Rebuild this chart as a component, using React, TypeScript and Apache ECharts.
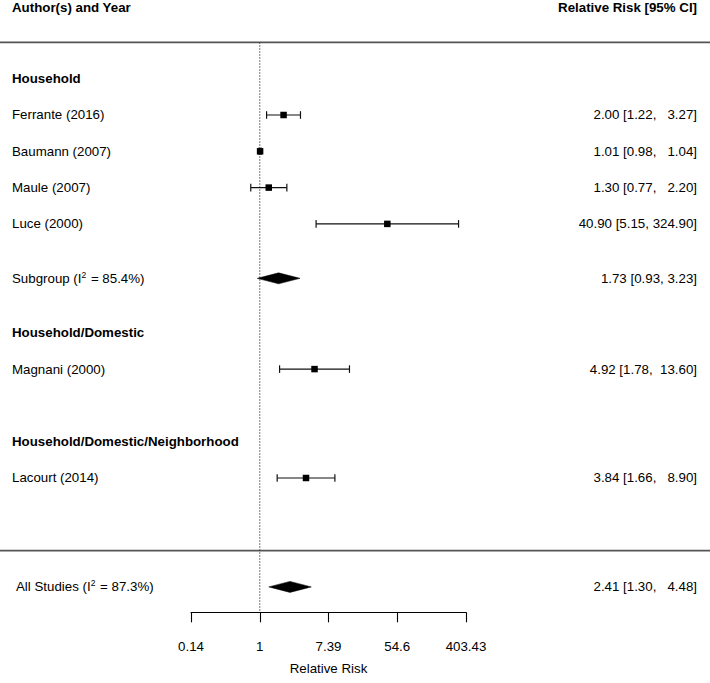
import React, { useEffect, useRef } from "react";
import * as echarts from "echarts";

// ---------- data ----------
const studyNames = ["Ferrante (2016)", "Baumann (2007)", "Maule (2007)", "Luce (2000)", "Magnani (2000)", "Lacourt (2014)"];
const studyRows = [0, 1, 2, 3, 7, 10];
const studyRR = [2.0, 1.01, 1.3, 40.9, 4.92, 3.84];
const studyLower = [1.22, 0.98, 0.77, 5.15, 1.78, 1.66];
const studyUpper = [3.27, 1.04, 2.2, 324.9, 13.6, 8.9];

const groupNames = ["Household", "Household/Domestic", "Household/Domestic/Neighborhood"];
const groupRows = [-1, 6, 9];

const summaryNames = ["Subgroup", "All Studies"];
const summaryI2 = ["85.4%", "87.3%"];
const summaryRows = [4.5, 13];
const summaryRR = [1.73, 2.41];
const summaryLower = [0.93, 1.3];
const summaryUpper = [3.23, 4.48];
const summaryPadded = [false, true];

const tickValues = [-2, 0, 2, 4, 6]; // natural log scale
const tickLabels = ["0.14", "1", "7.39", "54.6", "403.43"];

const headerLeft = "Author(s) and Year";
const headerRight = "Relative Risk [95% CI]";
const axisTitle = "Relative Risk";

// ---------- layout ----------
const W = 710;
const H = 683;
const ROW_MIN = -2;
const ROW_MAX = 13.7;
const HEADER_ROW = -2.95;
const SEPARATOR_ROWS = [-2, 12];
const FONT = '"Liberation Sans", Arial, Helvetica, sans-serif';
const FS = 13.3;
const NBSP = "\u00A0";

const pad = (s: string, w: number) => NBSP.repeat(Math.max(0, w - s.length)) + s;
const fmtCI = (est: number, lo: number, hi: number, padded: boolean) => {
  const e = est.toFixed(2), l = lo.toFixed(2), h = hi.toFixed(2);
  if (!padded) return `${e} [${l}, ${h}]`;
  return `${e} [${l},${NBSP}${pad(h, 6)}]`;
};

type TextItem = { row: number; text: string; bold?: boolean; x: number; align: "left" | "right"; rich?: boolean };

export default function App() {
  const ref = useRef<HTMLDivElement>(null);

  useEffect(() => {
    if (!ref.current) return;
    const chart = echarts.init(ref.current, null, { renderer: "svg" });

    const leftItems: TextItem[] = [];
    const rightItems: TextItem[] = [];
    leftItems.push({ row: HEADER_ROW, text: headerLeft, bold: true, x: 12, align: "left" });
    rightItems.push({ row: HEADER_ROW, text: headerRight, bold: true, x: 697, align: "right" });
    groupNames.forEach((g, i) => leftItems.push({ row: groupRows[i], text: g, bold: true, x: 12, align: "left" }));
    studyNames.forEach((s, i) => {
      leftItems.push({ row: studyRows[i], text: s, x: 12, align: "left" });
      rightItems.push({ row: studyRows[i], text: fmtCI(studyRR[i], studyLower[i], studyUpper[i], true), x: 697, align: "right" });
    });
    summaryNames.forEach((s, i) => {
      leftItems.push({ row: summaryRows[i], text: `${s} (I{sup|2} = ${summaryI2[i]})`, x: i === 1 ? 16 : 12, align: "left", rich: true });
      rightItems.push({ row: summaryRows[i], text: fmtCI(summaryRR[i], summaryLower[i], summaryUpper[i], summaryPadded[i]), x: 697, align: "right" });
    });

    const textSeries = (items: TextItem[]) => ({
      type: "custom",
      silent: true,
      data: items.map((it) => [0, it.row]),
      encode: { x: 0, y: 1 },
      renderItem: (params: any, api: any) => {
        const it = items[params.dataIndex];
        const y = api.coord([0, it.row])[1];
        const style: any = {
          text: it.text,
          x: it.x,
          y,
          fill: "#000",
          fontSize: FS,
          fontFamily: FONT,
          fontWeight: it.bold ? "bold" : "normal",
          align: it.align,
          verticalAlign: "middle",
        };
        if (it.rich) {
          style.rich = {
            sup: { fontSize: 8.5, fontFamily: FONT, fill: "#000", verticalAlign: "top", padding: [0, 1, 7, 0] },
          };
        }
        return { type: "text", style };
      },
    });

    const option: any = {
      animation: false,
      grid: { left: 191, right: W - 466, top: 42.4, bottom: H - 612.3, containLabel: false },
      xAxis: {
        type: "value",
        min: -2,
        max: 6,
        interval: 2,
        axisLine: { show: true, onZero: false, lineStyle: { color: "#000", width: 1.1 } },
        axisTick: { show: true, length: 10, lineStyle: { color: "#000", width: 1.1 } },
        axisLabel: {
          margin: 28,
          fontSize: FS,
          color: "#000",
          fontFamily: FONT,
          formatter: (v: number) => {
            const i = tickValues.indexOf(v);
            return i >= 0 ? tickLabels[i] : "";
          },
        },
        splitLine: { show: false },
        name: axisTitle,
        nameLocation: "middle",
        nameGap: 50,
        nameTextStyle: { fontSize: FS, color: "#000", fontFamily: FONT },
      },
      yAxis: { type: "value", inverse: true, min: ROW_MIN, max: ROW_MAX, show: false },
      series: [
        // separator lines
        {
          type: "custom",
          silent: true,
          data: SEPARATOR_ROWS.map((r) => [0, r]),
          encode: { x: 0, y: 1 },
          renderItem: (params: any, api: any) => {
            const y = api.coord([0, api.value(1)])[1];
            return { type: "line", shape: { x1: 0, y1: y, x2: W, y2: y }, style: { stroke: "#555", lineWidth: 1.6 } };
          },
        },
        // reference line at RR = 1
        {
          type: "custom",
          silent: true,
          data: [[0, ROW_MIN, ROW_MAX]],
          encode: { x: 0, y: [1, 2] },
          renderItem: (params: any, api: any) => {
            const p1 = api.coord([api.value(0), api.value(1)]);
            const p2 = api.coord([api.value(0), api.value(2)]);
            return {
              type: "line",
              shape: { x1: p1[0], y1: p1[1], x2: p2[0], y2: p2[1] },
              style: { stroke: "#222", lineWidth: 1.2, lineDash: [1.2, 1.8] },
            };
          },
        },
        // confidence intervals
        {
          type: "custom",
          silent: true,
          data: studyRows.map((r, i) => [Math.log(studyLower[i]), Math.log(studyUpper[i]), r]),
          encode: { x: [0, 1], y: 2 },
          renderItem: (params: any, api: any) => {
            const a = api.coord([api.value(0), api.value(2)]);
            const b = api.coord([api.value(1), api.value(2)]);
            const h = 3.8;
            const st = { stroke: "#111", lineWidth: 1.2 };
            return {
              type: "group",
              children: [
                { type: "line", shape: { x1: a[0], y1: a[1], x2: b[0], y2: b[1] }, style: st },
                { type: "line", shape: { x1: a[0], y1: a[1] - h, x2: a[0], y2: a[1] + h }, style: st },
                { type: "line", shape: { x1: b[0], y1: b[1] - h, x2: b[0], y2: b[1] + h }, style: st },
              ],
            };
          },
        },
        // point estimates
        {
          type: "scatter",
          silent: true,
          symbol: "rect",
          symbolSize: 6.5,
          itemStyle: { color: "#000", opacity: 1 },
          data: studyRows.map((r, i) => [Math.log(studyRR[i]), r]),
        },
        // summary diamonds
        {
          type: "custom",
          silent: true,
          data: summaryRows.map((r, i) => [Math.log(summaryRR[i]), Math.log(summaryLower[i]), Math.log(summaryUpper[i]), r]),
          encode: { x: [0, 1, 2], y: 3 },
          renderItem: (params: any, api: any) => {
            const row = api.value(3);
            const c = api.coord([api.value(0), row]);
            const l = api.coord([api.value(1), row]);
            const u = api.coord([api.value(2), row]);
            const h = 5.5;
            return {
              type: "polygon",
              shape: { points: [[l[0], l[1]], [c[0], c[1] - h], [u[0], u[1]], [c[0], c[1] + h]] },
              style: { fill: "#000", stroke: "#000", lineWidth: 0.5 },
            };
          },
        },
        textSeries(leftItems),
        textSeries(rightItems),
      ],
    };

    chart.setOption(option);
    return () => chart.dispose();
  }, []);

  return <div ref={ref} style={{ position: "fixed", left: 0, top: 0, width: W, height: H, background: "#fff" }} />;
}
